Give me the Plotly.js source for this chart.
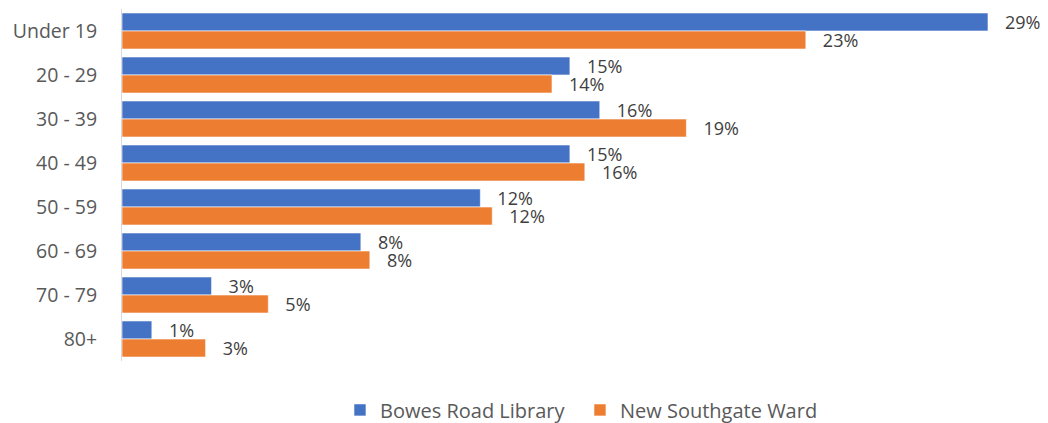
<!DOCTYPE html>
<html>
<head>
<meta charset="utf-8">
<script src="https://cdn.plot.ly/plotly-3.0.1.min.js"></script>
<style>html,body{margin:0;padding:0;background:#fff;}#chart{width:1048px;height:423px;}</style>
</head>
<body>
<div id="chart"></div>
<script>
const categories = ["Under 19", "20 - 29", "30 - 39", "40 - 49", "50 - 59", "60 - 69", "70 - 79", "80+"];
const bowesValues = [29.0, 15.0, 16.0, 15.0, 12.0, 8.0, 3.0, 1.0];
const bowesLabels = ["29%", "15%", "16%", "15%", "12%", "8%", "3%", "1%"];
const southgateValues = [22.9, 14.4, 18.9, 15.5, 12.4, 8.3, 4.9, 2.8];
const southgateLabels = ["23%", "14%", "19%", "16%", "12%", "8%", "5%", "3%"];

const font = "Open Sans, Noto Sans, sans-serif";
const pad = "\u00a0\u00a0\u00a0";
const traces = [
  {type: "bar", orientation: "h", name: "Bowes Road Library", y: categories, x: bowesValues,
   text: bowesLabels, texttemplate: pad + "%{text}", textposition: "outside", cliponaxis: false,
   constraintext: "none",
   textfont: {size: 18, color: "#404040", family: font},
   marker: {color: "#4472C4", line: {color: "#ffffff", width: 0.6}}},
  {type: "bar", orientation: "h", name: "New Southgate Ward", y: categories, x: southgateValues,
   text: southgateLabels, texttemplate: pad + "%{text}", textposition: "outside", cliponaxis: false,
   constraintext: "none",
   textfont: {size: 18, color: "#404040", family: font},
   marker: {color: "#ED7D31", line: {color: "#ffffff", width: 0.6}}}
];
const layout = {
  width: 1048, height: 423,
  margin: {l: 122, r: 20, t: 9, b: 62, autoexpand: false},
  barmode: "group", bargap: 0.18, bargroupgap: 0,
  paper_bgcolor: "#ffffff", plot_bgcolor: "#ffffff",
  font: {family: font, color: "#595959", size: 18},
  xaxis: {range: [0, 30.34], autorange: false, showticklabels: false, showline: false,
          ticks: "", showgrid: false, zeroline: false},
  yaxis: {autorange: "reversed", showline: true, linecolor: "#d9d9d9", linewidth: 1,
          ticks: "", ticklen: 0, showgrid: false, zeroline: false, ticklabelstandoff: 20,
          tickfont: {size: 19.5, color: "#595959", family: font}},
  showlegend: true,
  legend: {orientation: "h", x: 0.5055, xanchor: "center", y: -0.139, yanchor: "middle",
           font: {size: 20, color: "#595959", family: font}, traceorder: "normal",
           entrywidth: 195, entrywidthmode: "pixels", itemwidth: 30}
};
Plotly.newPlot("chart", traces, layout, {displayModeBar: false, staticPlot: true});
</script>
</body>
</html>
